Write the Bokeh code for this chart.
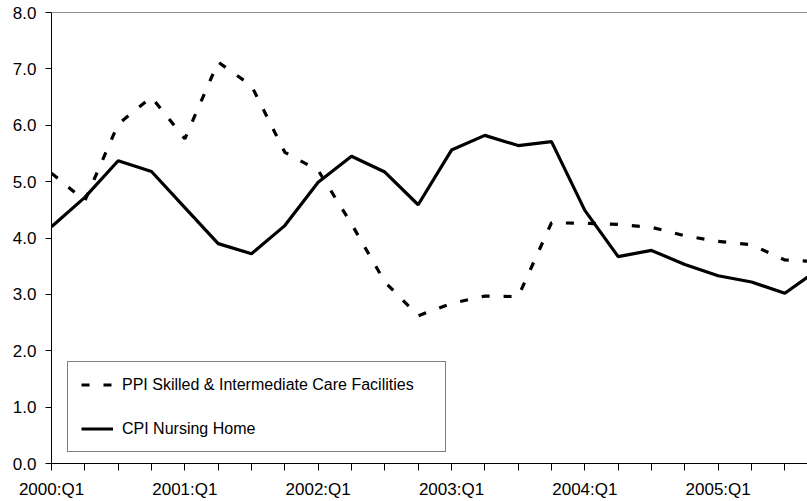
from bokeh.plotting import figure
from bokeh.models import FixedTicker, Legend, LegendItem, Span, ColumnDataSource, PrintfTickFormatter
from bokeh.embed import file_html
from bokeh.resources import INLINE

# ---- data ----
quarters = [f"{y}:Q{q}" for y in range(2000, 2006) for q in range(1, 5)]
cpi_nursing_home = [4.20, 4.72, 5.37, 5.18, 4.54, 3.90, 3.72, 4.22,
                    4.99, 5.45, 5.17, 4.59, 5.56, 5.82, 5.64, 5.71,
                    4.49, 3.67, 3.78, 3.53, 3.33, 3.22, 3.02, 3.44]
ppi_skilled = [5.15, 4.66, 6.02, 6.50, 5.76, 7.12, 6.70, 5.52,
               5.20, 4.25, 3.22, 2.62, 2.84, 2.97, 2.96, 4.27,
               4.26, 4.24, 4.19, 4.04, 3.94, 3.88, 3.61, 3.58]
y_ticks = [0, 1, 2, 3, 4, 5, 6, 7, 8]

idx = list(range(len(quarters)))
src = ColumnDataSource(dict(x=idx, cpi=cpi_nursing_home, ppi=ppi_skilled))

FONT = "Liberation Sans"

p = figure(width=807, height=501, output_backend="svg", toolbar_location=None,
           x_range=(0, 22.68), y_range=(0, 8),
           min_border_left=51, min_border_right=0, min_border_top=12, min_border_bottom=38)
p.background_fill_color = "white"
p.border_fill_color = "white"
p.outline_line_color = None
p.xgrid.grid_line_color = None
p.ygrid.grid_line_color = None

r_ppi = p.line("x", "ppi", source=src, line_color="black", line_width=3.2, line_dash="8 14")
r_cpi = p.line("x", "cpi", source=src, line_color="black", line_width=3.2)

# top border
p.add_layout(Span(location=8, dimension="width", line_color="#222222", line_width=1.2))

# x axis
xa = p.xaxis[0]
xa.ticker = FixedTicker(ticks=idx)
xa.major_label_overrides = {i: (quarters[i] if i % 4 == 0 else "") for i in idx}
xa.minor_tick_line_color = None
xa.major_tick_out = 7
xa.major_tick_in = 0
xa.axis_line_color = "black"
xa.major_tick_line_color = "black"
xa.major_label_text_font = FONT
xa.major_label_text_font_size = "17px"
xa.major_label_text_color = "black"
xa.major_label_standoff = 9

# y axis
ya = p.yaxis[0]
ya.ticker = FixedTicker(ticks=y_ticks)
ya.formatter = PrintfTickFormatter(format="%.1f")
ya.minor_tick_line_color = None
ya.major_tick_out = 6
ya.major_tick_in = 0
ya.axis_line_color = "black"
ya.major_tick_line_color = "black"
ya.major_label_text_font = FONT
ya.major_label_text_font_size = "17px"
ya.major_label_text_color = "black"
ya.major_label_standoff = 9

legend = Legend(items=[
    LegendItem(label="PPI Skilled & Intermediate Care Facilities", renderers=[r_ppi]),
    LegendItem(label="CPI Nursing Home", renderers=[r_cpi]),
], location=(16, 11))
legend.label_text_font = FONT
legend.label_text_font_size = "16px"
legend.label_text_color = "black"
legend.glyph_width = 32
legend.glyph_height = 19
legend.label_height = 19
legend.label_width = 310
legend.label_standoff = 9
legend.spacing = 25
legend.padding = 13
legend.margin = 0
legend.border_line_color = "black"
legend.border_line_width = 1
legend.background_fill_color = "white"
legend.background_fill_alpha = 1
p.add_layout(legend, "center")

open("out.html", "w").write(file_html(p, INLINE))
